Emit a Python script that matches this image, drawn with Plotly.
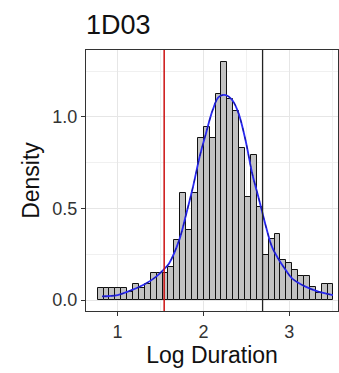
import plotly.graph_objects as go

# Histogram (density) data
bin_start = 0.768
bin_width = 0.0687
heights = [0.064, 0.064, 0.064, 0.064, 0.064, 0.045, 0.09, 0.065, 0.09, 0.15,
           0.15, 0.15, 0.18, 0.33, 0.585, 0.38, 0.585, 0.885, 0.945, 0.885,
           1.125, 1.30, 1.10, 1.035, 0.83, 0.565, 0.79, 0.51, 0.246, 0.335,
           0.36, 0.22, 0.20, 0.165, 0.13, 0.13, 0.07, 0.04, 0.09, 0.09]

# Fitted density curve
curve_x = [0.82, 1.0, 1.17, 1.33, 1.45, 1.54, 1.60, 1.72, 1.80, 1.88, 1.955, 2.03,
           2.11, 2.18, 2.26, 2.34, 2.41, 2.49, 2.57, 2.65, 2.73, 2.80, 2.88, 2.96,
           3.03, 3.19, 3.34, 3.51]
curve_y = [0.02, 0.027, 0.055, 0.09, 0.128, 0.168, 0.20, 0.33, 0.47, 0.62, 0.78, 0.91,
           1.04, 1.11, 1.12, 1.09, 1.02, 0.876, 0.69, 0.547, 0.40, 0.29, 0.22, 0.164,
           0.12, 0.073, 0.046, 0.027]

red_x = 1.543
black_x = 2.69

x_ticks = [1, 2, 3]
y_ticks = [0.0, 0.5, 1.0]
y_tick_text = ["0.0", "0.5", "1.0"]

centers = [bin_start + bin_width * (i + 0.5) for i in range(len(heights))]

fig = go.Figure()
fig.add_trace(go.Bar(x=centers, y=heights, width=bin_width,
                     marker=dict(color="#c2c2c2", line=dict(color="#111111", width=1)),
                     showlegend=False, hoverinfo="skip"))
fig.add_trace(go.Scatter(x=curve_x, y=curve_y, mode="lines",
                         line=dict(color="#2a2af5", width=1.8, shape="spline"),
                         showlegend=False, hoverinfo="skip"))
fig.add_trace(go.Scatter(x=curve_x, y=curve_y, mode="lines",
                         line=dict(color="#161690", width=0.9, dash="4px,5px", shape="spline"),
                         showlegend=False, hoverinfo="skip"))

fig.add_vline(x=red_x, line=dict(color="#cc1111", width=1.5))
fig.add_vline(x=black_x, line=dict(color="#222222", width=1.3))

fig.update_layout(
    width=339, height=373,
    margin=dict(l=86, r=1, t=50, b=62),
    paper_bgcolor="white", plot_bgcolor="white",
    bargap=0,
    font=dict(family="Liberation Sans, Arial, sans-serif", color="#222222"),
    title=dict(text="1D03", x=0, xref="paper", xanchor="left", y=0.935, yref="container",
               yanchor="middle", font=dict(size=27, color="#111111")),
)
fig.update_xaxes(
    range=[0.632, 3.569], tickvals=x_ticks, ticktext=[str(t) for t in x_ticks],
    showgrid=True, gridcolor="#e6e6e6", gridwidth=1,
    minor=dict(dtick=0.5, showgrid=True, gridcolor="#f0f0f0", gridwidth=0.6, tick0=0),
    showline=True, linecolor="#333333", linewidth=1, mirror=True,
    ticks="outside", ticklen=4, tickcolor="#333333",
    tickfont=dict(size=18, color="#333333"),
    title=dict(text="Log Duration", font=dict(size=23, color="#111111"), standoff=3),
    zeroline=False,
)
fig.update_yaxes(
    range=[-0.06, 1.366], tickvals=y_ticks, ticktext=y_tick_text,
    showgrid=True, gridcolor="#e6e6e6", gridwidth=1,
    minor=dict(dtick=0.25, showgrid=True, gridcolor="#f0f0f0", gridwidth=0.6, tick0=0),
    showline=True, linecolor="#333333", linewidth=1, mirror=True,
    ticks="outside", ticklen=4, tickcolor="#333333",
    tickfont=dict(size=18, color="#333333"),
    title=dict(text="Density", font=dict(size=23, color="#111111"), standoff=6),
    zeroline=False,
)

fig.write_html("out.html", config={"displayModeBar": False},
               post_script="document.body.style.margin='0';document.body.style.overflow='hidden';")
